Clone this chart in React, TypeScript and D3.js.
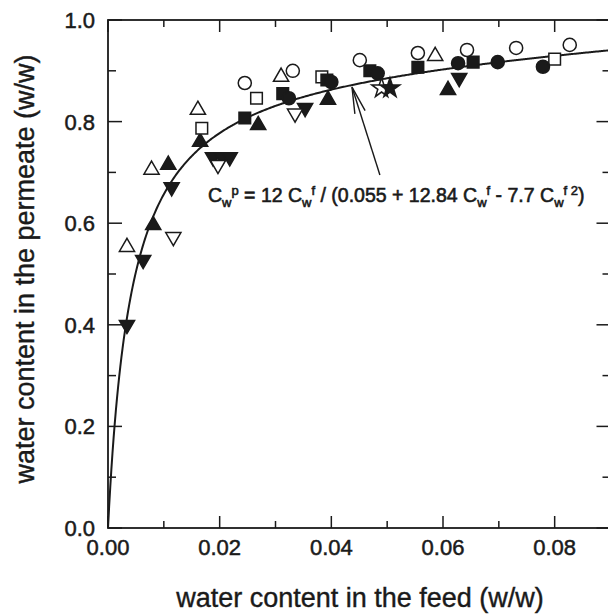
import React from 'react';
import * as d3 from 'd3';

// measured points, [feed, permeate], grouped by marker
const openTriUp = [[0.0034, 0.553], [0.0078, 0.705], [0.0161, 0.823], [0.031, 0.888], [0.0586, 0.929]];
const filledTriUp = [[0.0081, 0.596], [0.0108, 0.715], [0.0165, 0.76], [0.0269, 0.793], [0.0394, 0.843], [0.0609, 0.862]];
const filledTriDown = [[0.0034, 0.4], [0.0063, 0.528], [0.0114, 0.671], [0.0188, 0.73], [0.0204, 0.73], [0.0218, 0.73], [0.0353, 0.827], [0.0629, 0.886]];
const openTriDown = [[0.0117, 0.573], [0.0197, 0.715], [0.0335, 0.816]];
const openSquare = [[0.0168, 0.787], [0.0266, 0.846], [0.0383, 0.888], [0.08, 0.923]];
const filledSquare = [[0.0245, 0.807], [0.0313, 0.855], [0.0392, 0.882], [0.0469, 0.9], [0.0555, 0.907], [0.0654, 0.917]];
const openCircle = [[0.0245, 0.876], [0.0331, 0.9], [0.0451, 0.921], [0.0555, 0.935], [0.0643, 0.941], [0.0731, 0.945], [0.0827, 0.951]];
const filledCircle = [[0.0324, 0.846], [0.04, 0.878], [0.0483, 0.895], [0.0627, 0.915], [0.0698, 0.917], [0.0779, 0.908]];
const openStar = [[0.049, 0.866]];
const filledStar = [[0.0505, 0.866]];

// fitted curve Cp = a Cf / (b + c Cf - d Cf^2)
const fitA = 12, fitB = 0.055, fitC = 12.84, fitD = 7.7;

const xTicks = [0, 0.02, 0.04, 0.06, 0.08];
const xTickLabels = ['0.00', '0.02', '0.04', '0.06', '0.08'];
const xMinor = [0.01, 0.03, 0.05, 0.07];
const yTicks = [0, 0.2, 0.4, 0.6, 0.8, 1.0];
const yTickLabels = ['0.0', '0.2', '0.4', '0.6', '0.8', '1.0'];
const yMinor = [0.1, 0.3, 0.5, 0.7, 0.9];

const W = 608, H = 615;
const ink = '#1a1a1a';
const font = '"Liberation Sans", Arial, sans-serif';

export default function App() {
  const x = d3.scaleLinear().domain([0, 0.09]).range([108, 610.5]);
  const y = d3.scaleLinear().domain([0, 1]).range([528, 20]);

  const curvePts = d3.range(0, 0.0901, 0.0002).map(f => [f, (fitA * f) / (fitB + fitC * f - fitD * f * f)]);
  const line = d3.line<number[]>().x(d => x(d[0])).y(d => y(d[1]));

  const tri = d3.symbol().type(d3.symbolTriangle).size(100)()!;
  const circ = d3.symbol().type(d3.symbolCircle).size(135)()!;
  const sq = d3.symbol().type(d3.symbolSquare).size(135)()!;
  const star = d3.symbol().type(d3.symbolStar).size(120)()!;

  const groups = [
    { pts: openTriUp, path: tri, rot: 0, filled: false },
    { pts: filledTriUp, path: tri, rot: 0, filled: true },
    { pts: filledTriDown, path: tri, rot: 180, filled: true },
    { pts: openTriDown, path: tri, rot: 180, filled: false },
    { pts: openSquare, path: sq, rot: 0, filled: false },
    { pts: filledSquare, path: sq, rot: 0, filled: true },
    { pts: openCircle, path: circ, rot: 0, filled: false },
    { pts: filledCircle, path: circ, rot: 0, filled: true },
    { pts: openStar, path: star, rot: 0, filled: false },
    { pts: filledStar, path: star, rot: 0, filled: true },
  ];

  const x0 = x(0), x1 = x(0.09), y0 = y(0), y1 = y(1);

  // arrow from label to curve
  const aFrom = [x(0.0487), y(0.695)];
  const aTip = [x(0.0437), y(0.868)];
  const ang = Math.atan2(aFrom[1] - aTip[1], aFrom[0] - aTip[0]);
  const headLen = 27, spread = 0.2;
  const h1 = [aTip[0] + headLen * Math.cos(ang - spread), aTip[1] + headLen * Math.sin(ang - spread)];
  const h2 = [aTip[0] + headLen * Math.cos(ang + spread), aTip[1] + headLen * Math.sin(ang + spread)];

  const sub = 13;
  return (
    <svg width={W} height={H} style={{ position: 'absolute', left: 0, top: 0, background: '#fff' }} fontFamily={font}>
      {/* frame */}
      <rect x={x0} y={y1} width={x1 - x0} height={y0 - y1} fill="none" stroke={ink} strokeWidth={1.8} />

      {/* ticks */}
      <g stroke={ink} strokeWidth={1.5}>
        {xTicks.map(t => (
          <g key={'xt' + t}>
            <line x1={x(t)} x2={x(t)} y1={y0} y2={y0 - 12} />
            <line x1={x(t)} x2={x(t)} y1={y1} y2={y1 + 12} />
          </g>
        ))}
        {xMinor.map(t => (
          <g key={'xm' + t}>
            <line x1={x(t)} x2={x(t)} y1={y0} y2={y0 - 7} />
            <line x1={x(t)} x2={x(t)} y1={y1} y2={y1 + 7} />
          </g>
        ))}
        {yTicks.map(t => (
          <g key={'yt' + t}>
            <line x1={x0} x2={x0 + 14} y1={y(t)} y2={y(t)} />
            <line x1={x1} x2={x1 - 14} y1={y(t)} y2={y(t)} />
          </g>
        ))}
        {yMinor.map(t => (
          <g key={'ym' + t}>
            <line x1={x0} x2={x0 + 8} y1={y(t)} y2={y(t)} />
            <line x1={x1} x2={x1 - 8} y1={y(t)} y2={y(t)} />
          </g>
        ))}
      </g>

      {/* tick labels */}
      <g fill={ink} stroke={ink} strokeWidth={0.5} fontSize={22}>
        {xTicks.map((t, i) => (
          <text key={'xl' + t} x={x(t)} y={y0 + 27} textAnchor="middle">{xTickLabels[i]}</text>
        ))}
        {yTicks.map((t, i) => (
          <text key={'yl' + t} x={x0 - 13} y={y(t) + 8} textAnchor="end">{yTickLabels[i]}</text>
        ))}
      </g>

      {/* axis titles */}
      <g fill={ink} stroke={ink} strokeWidth={0.4} fontSize={27}>
        <text x={360} y={607} textAnchor="middle">water content in the feed (w/w)</text>
        <text transform="translate(34,269) rotate(-90)" textAnchor="middle">water content in the permeate (w/w)</text>
      </g>

      {/* fit curve */}
      <path d={line(curvePts)!} fill="none" stroke={ink} strokeWidth={2} />

      {/* markers */}
      {groups.map((g, gi) => g.pts.map((p, i) => (
        <path key={gi + '-' + i} d={g.path}
          transform={`translate(${x(p[0])},${y(p[1])}) rotate(${g.rot})`}
          fill={g.filled ? ink : '#fff'} stroke={ink} strokeWidth={1.5} />
      )))}

      {/* arrow */}
      <g stroke={ink} strokeWidth={1.4} fill="none">
        <line x1={aFrom[0]} y1={aFrom[1]} x2={aTip[0]} y2={aTip[1]} />
        <polyline points={`${h1[0]},${h1[1]} ${aTip[0]},${aTip[1]} ${h2[0]},${h2[1]}`} />
      </g>

      {/* equation */}
      <text x={x(0.0179)} y={y(0.642)} fontSize={19.5} fill={ink} stroke={ink} strokeWidth={0.6}>
        C<tspan fontSize={sub} dy={5}>w</tspan><tspan fontSize={sub} dy={-12}>p</tspan>
        <tspan dy={7}> = 12 C</tspan><tspan fontSize={sub} dy={5}>w</tspan><tspan fontSize={sub} dy={-12}>f</tspan>
        <tspan dy={7}> / (0.055 + 12.84 C</tspan><tspan fontSize={sub} dy={5}>w</tspan><tspan fontSize={sub} dy={-12}>f</tspan>
        <tspan dy={7}> - 7.7 C</tspan><tspan fontSize={sub} dy={5}>w</tspan><tspan fontSize={sub} dy={-12}>f 2</tspan>
        <tspan dy={7}>)</tspan>
      </text>
    </svg>
  );
}
